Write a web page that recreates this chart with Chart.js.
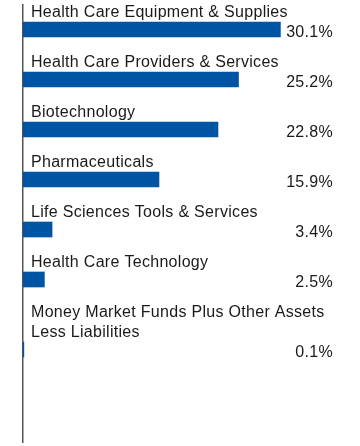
<!DOCTYPE html>
<html>
<head>
<meta charset="utf-8">
<script src="https://cdn.jsdelivr.net/npm/chart.js@4"></script>
<style>
  html, body { margin: 0; padding: 0; background: #fff; }
  #wrap { width: 360px; height: 446px; position: relative; }
</style>
</head>
<body>
<div id="wrap"><canvas id="myChart"></canvas></div>
<script>
const categories = [
    ['Health Care Equipment & Supplies'],
    ['Health Care Providers & Services'],
    ['Biotechnology'],
    ['Pharmaceuticals'],
    ['Life Sciences Tools & Services'],
    ['Health Care Technology'],
    ['Money Market Funds Plus Other Assets', 'Less Liabilities']
];
const weights = [30.1, 25.2, 22.8, 15.9, 3.4, 2.5, 0.1];
const valueLabels = ['30.1%', '25.2%', '22.8%', '15.9%', '3.4%', '2.5%', '0.1%'];

// each extra label line pushes the row down a bit
let extra = 0;
const rows = categories.map(function (lines, i) {
    extra += (lines.length - 1) * 0.4;
    return i + extra;
});

const labelPlugin = {
    id: 'barLabels',
    afterDatasetsDraw(chart) {
        const ctx = chart.ctx;
        const meta = chart.getDatasetMeta(0);
        ctx.save();
        ctx.font = '16px "Liberation Sans", Arial, sans-serif';
        ctx.letterSpacing = '0.3px';
        ctx.fillStyle = '#1a1a1a';
        ctx.textBaseline = 'alphabetic';
        meta.data.forEach(function (bar, i) {
            const top = bar.y - bar.height / 2;
            const lines = categories[i];
            ctx.textAlign = 'left';
            lines.forEach(function (line, k) {
                ctx.fillText(line, 31, top - 5 - (lines.length - 1 - k) * 20);
            });
            ctx.textAlign = 'right';
            ctx.fillText(valueLabels[i], chart.chartArea.right, bar.y + bar.height / 2);
        });
        ctx.restore();
    }
};

const myChart = new Chart(document.querySelector('#myChart'), {
    type: 'bar',
    data: {
        datasets: [{
            data: weights.map(function (v, i) { return { x: v, y: rows[i] }; }),
            backgroundColor: '#0054A4',
            barThickness: 15
        }]
    },
    options: {
        indexAxis: 'y',
        responsive: true,
        maintainAspectRatio: false,
        animation: false,
        layout: { padding: { left: 23, right: 27, top: 5, bottom: 4 } },
        plugins: {
            legend: { display: false },
            tooltip: { enabled: false }
        },
        scales: {
            x: {
                type: 'linear',
                display: false,
                min: 0,
                max: 36.25
            },
            y: {
                type: 'linear',
                reverse: true,
                offset: false,
                min: -0.49,
                max: 8.25,
                ticks: { display: false },
                grid: { display: false, drawTicks: false, offset: false },
                border: { display: true, color: '#555555', width: 1.5 }
            }
        }
    },
    plugins: [labelPlugin]
});
</script>
</body>
</html>
